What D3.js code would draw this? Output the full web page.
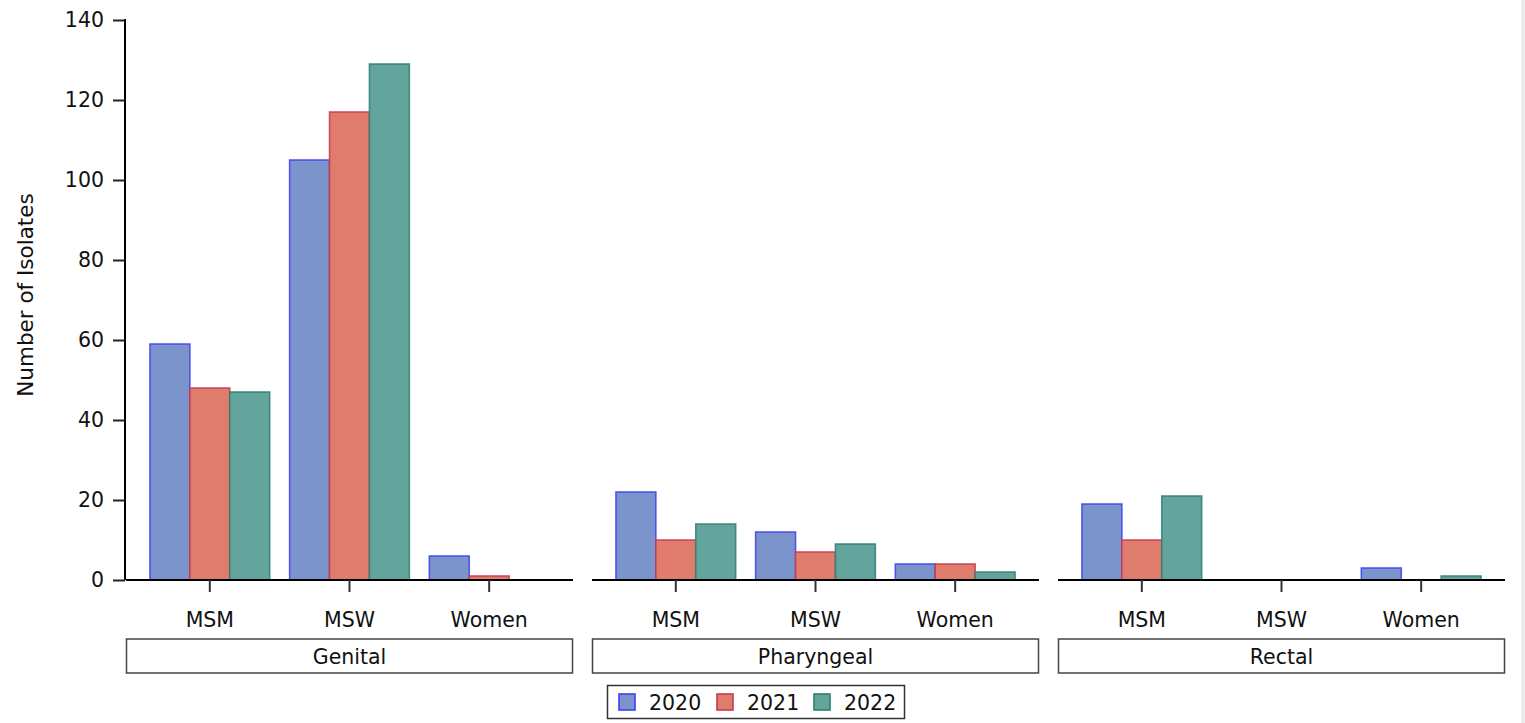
<!DOCTYPE html>
<html><head><meta charset="utf-8">
<script src="https://cdn.jsdelivr.net/npm/d3@7/dist/d3.min.js"></script>
<style>
html,body{margin:0;padding:0;background:#fff;}
svg{display:block;font-family:"DejaVu Sans",sans-serif;}
</style></head><body>
<script>
const sites = ["Genital","Pharyngeal","Rectal"];
const groups = ["MSM","MSW","Women"];
const years = ["2020","2021","2022"];
// values[site][group][year]
const genital    = [[59,48,47],[105,117,129],[6,1,0]];
const pharyngeal = [[22,10,14],[12,7,9],[4,4,2]];
const rectal     = [[19,10,21],[0,0,0],[3,0,1]];
const yTicks = [0,20,40,60,80,100,120,140];
const seriesFill   = ["#7b95cc","#df7c6d","#63a59c"];
const seriesStroke = ["#3f3ff0","#c83a48","#2e7f72"];
const dataBySite = [genital, pharyngeal, rectal];

const FONT = "'DejaVu Sans',sans-serif";
const FS = 20.5;
const W=1525,H=723;
const svg=d3.select("body").append("svg").attr("width",W).attr("height",H);
svg.append("rect").attr("width",W).attr("height",H).attr("fill","#ffffff");
svg.append("rect").attr("x",1521).attr("y",0).attr("width",4).attr("height",H).attr("fill","#ececec");

const plotTop=20,plotBottom=580;
const y=d3.scaleLinear().domain([0,140]).range([plotBottom,plotTop]);
const panel=d3.scaleBand().domain(sites).range([126,1505]).paddingInner(19/466).paddingOuter(0);
const pw=panel.bandwidth();
const x=d3.scaleBand().domain(groups).range([0,pw]).paddingInner(20/140).paddingOuter(24/140);
const xs=d3.scaleBand().domain(years).range([0,x.bandwidth()]);

// y axis
const ya=svg.append("g").attr("transform","translate(125,0)")
  .call(d3.axisLeft(y).tickValues(yTicks).tickSize(12).tickPadding(9).tickSizeOuter(0));
ya.select(".domain").attr("stroke","#000").attr("stroke-width",2).attr("d",`M0,${plotTop-1}V${plotBottom}`);
ya.selectAll(".tick line").attr("stroke","#222").attr("stroke-width",2);
ya.selectAll(".tick text").attr("font-size",FS).attr("fill","#111").attr("font-family",FONT);

svg.append("text").attr("transform",`translate(33,${(plotTop+plotBottom)/2 - 5}) rotate(-90)`)
  .attr("text-anchor","middle").attr("font-size",FS+1).attr("fill","#111").attr("font-family",FONT).text("Number of Isolates");

sites.forEach((s,si)=>{
  const g=svg.append("g").attr("transform",`translate(${panel(s)},0)`);
  const vals=dataBySite[si];
  groups.forEach((grp,gi)=>{
    years.forEach((yr,yi)=>{
      const v=vals[gi][yi];
      g.append("rect")
        .attr("x",x(grp)+xs(yr)).attr("y",y(v))
        .attr("width",xs.bandwidth()).attr("height",y(0)-y(v))
        .attr("fill",seriesFill[yi]).attr("stroke",seriesStroke[yi]).attr("stroke-width",1.6).attr("stroke-opacity",0.85);
    });
  });
  const xa=g.append("g").attr("transform",`translate(0,${plotBottom})`)
    .call(d3.axisBottom(x).tickSize(12).tickPadding(20).tickSizeOuter(0));
  xa.select(".domain").attr("stroke","#000").attr("stroke-width",2).attr("d",`M0,0H${pw}`);
  xa.selectAll(".tick line").attr("stroke","#333").attr("stroke-width",2);
  xa.selectAll(".tick text").attr("font-size",FS).attr("fill","#111").attr("font-family",FONT);
  // strip
  g.append("rect").attr("x",0.5).attr("y",639).attr("width",pw-1).attr("height",34)
    .attr("fill","#fff").attr("stroke","#444").attr("stroke-width",1.5);
  g.append("text").attr("x",pw/2).attr("y",664).attr("text-anchor","middle")
    .attr("font-size",FS).attr("fill","#111").attr("font-family",FONT).text(s);
});

// legend
const lg=svg.append("g");
lg.append("rect").attr("x",607.5).attr("y",685.5).attr("width",297).attr("height",33)
  .attr("fill","#fff").attr("stroke","#333").attr("stroke-width",1.5);
const lx=[619,717,814];
years.forEach((yr,i)=>{
  lg.append("rect").attr("x",lx[i]).attr("y",694).attr("width",16).attr("height",16)
    .attr("fill",seriesFill[i]).attr("stroke",seriesStroke[i]).attr("stroke-width",1.6);
  lg.append("text").attr("x",lx[i]+30).attr("y",710).attr("font-size",FS).attr("fill","#111").attr("font-family",FONT).text(yr);
});
</script>
</body></html>
